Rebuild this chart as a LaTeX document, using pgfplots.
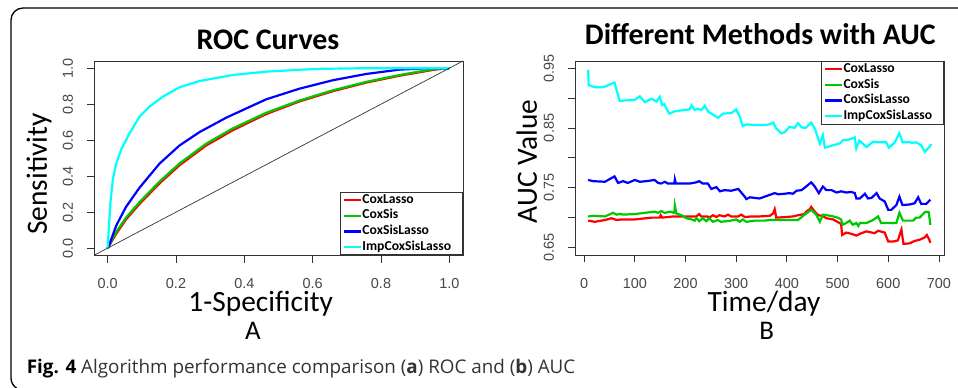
\documentclass[border=0pt]{standalone}
\usepackage{fontspec}
\setmainfont{Open Sans}
\newfontfamily\carlito{Carlito}
\newfontfamily\arial{Liberation Sans}
\usepackage{pgfplots}
\pgfplotsset{compat=1.18}
\definecolor{cRed}{RGB}{255,0,0}
\definecolor{cGreen}{RGB}{0,200,0}
\definecolor{cBlue}{RGB}{0,0,255}
\definecolor{cCyan}{RGB}{0,255,255}
\pgfplotsset{
  rstyle/.style={
    scale only axis, anchor=south west,
    axis line style={black!80, line width=0.8bp},
    tick align=outside, major tick length=7.5bp,
    tick style={black!80, line width=0.8bp},
    xtick pos=bottom, ytick pos=left,
    minor tick num=0,
    xticklabel style={font=\arial\fontsize{14.5}{14.5}\selectfont, text=black!72},
    yticklabel style={font=\arial\fontsize{14.5}{14.5}\selectfont, text=black!72, rotate=90, anchor=south},
    xticklabel shift=12bp, yticklabel shift=10bp,
    legend cell align=left,
    legend image code/.code={\draw[##1] (0bp,0bp) -- (17bp,0bp);},
    legend style={draw=black!80, line width=0.8bp,
      font=\carlito\bfseries\fontsize{13.7}{14}\selectfont,
      inner xsep=2bp, inner ysep=1bp, row sep=2.2bp,
      nodes={inner sep=0.5bp, text height=9.5bp, text depth=3bp}},
  }
}
\begin{document}
\begin{tikzpicture}
\useasboundingbox (0,0) rectangle (958bp,388bp);
\draw[line width=1.3bp, black] (960bp,380bp) -- (23bp,380bp) arc[start angle=90,end angle=180,radius=12bp] -- (11bp,10bp) arc[start angle=180,end angle=240,radius=12bp];

\begin{axis}[rstyle,
  at={(94bp,132.7bp)}, width=369bp, height=194.3bp,
  xmin=-0.04, xmax=1.04, ymin=-0.04, ymax=1.04,
  xtick={0,0.2,0.4,0.6,0.8,1}, xticklabels={0.0,0.2,0.4,0.6,0.8,1.0},
  ytick={0,0.2,0.4,0.6,0.8,1}, yticklabels={0.0,0.2,0.4,0.6,0.8,1.0},
  legend style={at={(1,0)}, anchor=south east, /tikz/every even column/.append style={column sep=3.5bp}},
]
\addplot[cRed, line width=2.2bp] coordinates {(0,0)(0.005,0.015)(0.025,0.08)(0.054,0.16)(0.093,0.245)(0.152,0.36)(0.21,0.46)(0.288,0.57)(0.366,0.655)(0.464,0.745)(0.561,0.815)(0.659,0.872)(0.757,0.92)(0.854,0.958)(0.951,0.99)(0.99,1)(1,1)};
\addlegendentry{CoxLasso\hspace*{9bp}}
\addplot[cGreen, line width=2.2bp] coordinates {(0,0)(0.005,0.02)(0.025,0.09)(0.054,0.17)(0.093,0.255)(0.152,0.37)(0.21,0.47)(0.288,0.58)(0.366,0.665)(0.464,0.752)(0.561,0.82)(0.659,0.877)(0.757,0.924)(0.854,0.962)(0.951,0.994)(0.98,1)(1,1)};
\addlegendentry{CoxSis\hspace*{9bp}}
\addplot[cBlue, line width=2.2bp] coordinates {(0,0)(0.005,0.02)(0.025,0.125)(0.054,0.23)(0.093,0.335)(0.152,0.47)(0.21,0.57)(0.269,0.645)(0.347,0.725)(0.464,0.827)(0.561,0.886)(0.659,0.933)(0.757,0.968)(0.854,0.992)(0.94,1)(1,1)};
\addlegendentry{CoxSisLasso\hspace*{9bp}}
\addplot[cCyan, line width=2.2bp] coordinates {(0,0)(0.003,0.1)(0.008,0.25)(0.015,0.38)(0.025,0.47)(0.04,0.55)(0.064,0.638)(0.093,0.73)(0.122,0.786)(0.161,0.841)(0.21,0.894)(0.269,0.929)(0.366,0.962)(0.464,0.981)(0.61,0.996)(0.757,1.0)(1,1)};
\addlegendentry{ImpCoxSisLasso\hspace*{9bp}}
\addplot[black!80, line width=0.7bp, forget plot] coordinates {(-0.04,-0.04)(1.04,1.04)};
\end{axis}

\begin{axis}[rstyle,
  at={(575bp,133bp)}, width=369bp, height=194bp,
  xmin=-18, xmax=710, ymin=0.6375, ymax=0.962,
  xtick={0,100,200,300,400,500,600,700}, xticklabels={0,100,200,300,400,500,600,700},
  ytick={0.65,0.70,0.75,0.80,0.85,0.90,0.95}, yticklabels={0.65,,0.75,,0.85,,0.95},
  legend style={at={(1,1)}, anchor=north east, /tikz/every even column/.append style={column sep=0bp}},
]
\addplot[cRed, line width=2.2bp] coordinates {(8,0.695)(21,0.693)(41,0.696)(54,0.699)(64,0.696)(74,0.697)(100,0.697)(133,0.700)(149,0.700)(151,0.704)(154,0.700)(176,0.702)(201,0.702)(221,0.702)(227,0.706)(231,0.702)(244,0.702)(247,0.700)(254,0.704)(261,0.701)(267,0.704)(277,0.702)(284,0.705)(290,0.702)(304,0.702)(310,0.705)(317,0.701)(330,0.702)(346,0.702)(366,0.703)(373,0.707)(376,0.714)(379,0.700)(399,0.701)(412,0.702)(422,0.704)(435,0.706)(438,0.710)(445,0.714)(448,0.718)(455,0.710)(462,0.704)(470,0.703)(478,0.699)(491,0.697)(504,0.691)(507,0.689)(509,0.671)(517,0.675)(527,0.673)(537,0.670)(547,0.674)(557,0.677)(573,0.674)(580,0.678)(593,0.675)(600,0.660)(610,0.660)(619,0.662)(626,0.680)(630,0.656)(642,0.657)(652,0.661)(662,0.663)(672,0.667)(676,0.671)(681,0.663)(683,0.658)};
\addlegendentry{CoxLasso\hspace*{9bp}}
\addplot[cGreen, line width=2.2bp] coordinates {(8,0.702)(18,0.703)(41,0.702)(57,0.708)(64,0.705)(71,0.706)(77,0.705)(100,0.706)(139,0.710)(146,0.708)(152,0.711)(159,0.708)(169,0.710)(178,0.708)(179,0.720)(182,0.707)(192,0.704)(202,0.699)(212,0.697)(218,0.695)(222,0.699)(227,0.694)(234,0.699)(241,0.694)(247,0.699)(254,0.693)(264,0.696)(270,0.693)(290,0.695)(300,0.697)(307,0.693)(313,0.697)(320,0.693)(337,0.695)(356,0.695)(366,0.696)(399,0.696)(422,0.696)(435,0.705)(448,0.713)(458,0.705)(465,0.693)(471,0.705)(487,0.703)(500,0.700)(507,0.697)(510,0.688)(517,0.691)(524,0.695)(530,0.688)(537,0.691)(541,0.686)(544,0.691)(557,0.691)(570,0.696)(580,0.702)(586,0.691)(616,0.691)(622,0.708)(629,0.695)(649,0.695)(655,0.700)(662,0.700)(672,0.709)(675,0.710)(680,0.709)(683,0.688)};
\addlegendentry{CoxSis\hspace*{9bp}}
\addplot[cBlue, line width=2.2bp] coordinates {(8,0.763)(18,0.761)(41,0.760)(60,0.769)(67,0.758)(77,0.761)(86,0.758)(100,0.763)(110,0.760)(123,0.761)(139,0.763)(146,0.758)(152,0.757)(159,0.760)(165,0.757)(178,0.757)(179,0.764)(181,0.757)(208,0.757)(221,0.759)(227,0.761)(234,0.757)(244,0.757)(251,0.748)(261,0.751)(268,0.744)(277,0.746)(290,0.745)(304,0.748)(310,0.742)(317,0.735)(320,0.731)(327,0.734)(346,0.732)(366,0.738)(376,0.741)(383,0.739)(396,0.740)(405,0.741)(412,0.740)(419,0.745)(429,0.746)(438,0.752)(448,0.759)(455,0.752)(463,0.741)(471,0.752)(478,0.746)(488,0.746)(498,0.742)(507,0.744)(517,0.742)(527,0.743)(534,0.741)(537,0.732)(544,0.732)(554,0.740)(560,0.732)(567,0.733)(577,0.741)(583,0.732)(593,0.727)(600,0.713)(606,0.713)(616,0.721)(622,0.735)(628,0.721)(642,0.722)(652,0.724)(659,0.734)(665,0.723)(675,0.723)(683,0.730)};
\addlegendentry{CoxSisLasso\hspace*{9bp}}
\addplot[cCyan, line width=2.2bp] coordinates {(8,0.947)(9,0.922)(20,0.918)(37,0.918)(60,0.926)(70,0.895)(80,0.896)(100,0.897)(110,0.903)(120,0.893)(133,0.899)(143,0.894)(149,0.902)(154,0.888)(158,0.890)(162,0.883)(168,0.874)(179,0.878)(208,0.881)(212,0.888)(218,0.880)(225,0.882)(231,0.880)(238,0.887)(245,0.877)(264,0.867)(274,0.874)(291,0.875)(300,0.881)(307,0.869)(313,0.853)(320,0.856)(336,0.855)(356,0.855)(366,0.856)(373,0.859)(379,0.849)(389,0.841)(396,0.843)(405,0.852)(415,0.850)(422,0.858)(429,0.851)(437,0.850)(448,0.859)(455,0.849)(465,0.824)(471,0.838)(475,0.817)(491,0.821)(504,0.824)(511,0.830)(520,0.830)(534,0.834)(537,0.816)(543,0.829)(557,0.818)(570,0.827)(583,0.826)(596,0.826)(601,0.817)(612,0.825)(622,0.841)(628,0.826)(642,0.826)(648,0.825)(655,0.826)(665,0.821)(672,0.810)(682,0.819)(685,0.823)};
\addlegendentry{ImpCoxSisLasso\hspace*{9bp}}
\end{axis}

\node[font=\carlito\bfseries\fontsize{30}{30}\selectfont, anchor=base] at (268bp,338.7bp) {ROC Curves};
\node[font=\carlito\bfseries\fontsize{30}{30}\selectfont, anchor=base] at (760.3bp,343bp) {Different Methods with AUC};
\node[font=\carlito\fontsize{29.5}{30}\selectfont, rotate=90] at (39bp,214bp) {Sensitivity};
\node[font=\carlito\fontsize{29.5}{30}\selectfont, rotate=90] at (526.7bp,226.5bp) {AUC Value};
\node[font=\carlito\fontsize{29.5}{30}\selectfont, anchor=base] at (260.7bp,76bp) {1-Specificity};
\node[font=\carlito\fontsize{27}{30}\selectfont, anchor=base] at (253bp,48bp) {A};
\node[font=\carlito\fontsize{29.5}{30}\selectfont, anchor=base] at (764bp,76bp) {Time/day};
\node[font=\carlito\fontsize{27}{30}\selectfont, anchor=base] at (766.7bp,48bp) {B};
\node[anchor=base west, inner sep=0pt, font=\fontsize{18.9}{19}\selectfont, text=black!80] at (26.7bp,14.7bp) {\textcolor{black}{\textbf{Fig. 4}} Algorithm performance comparison (\textbf{a}) ROC and (\textbf{b}) AUC};
\end{tikzpicture}
\end{document}
